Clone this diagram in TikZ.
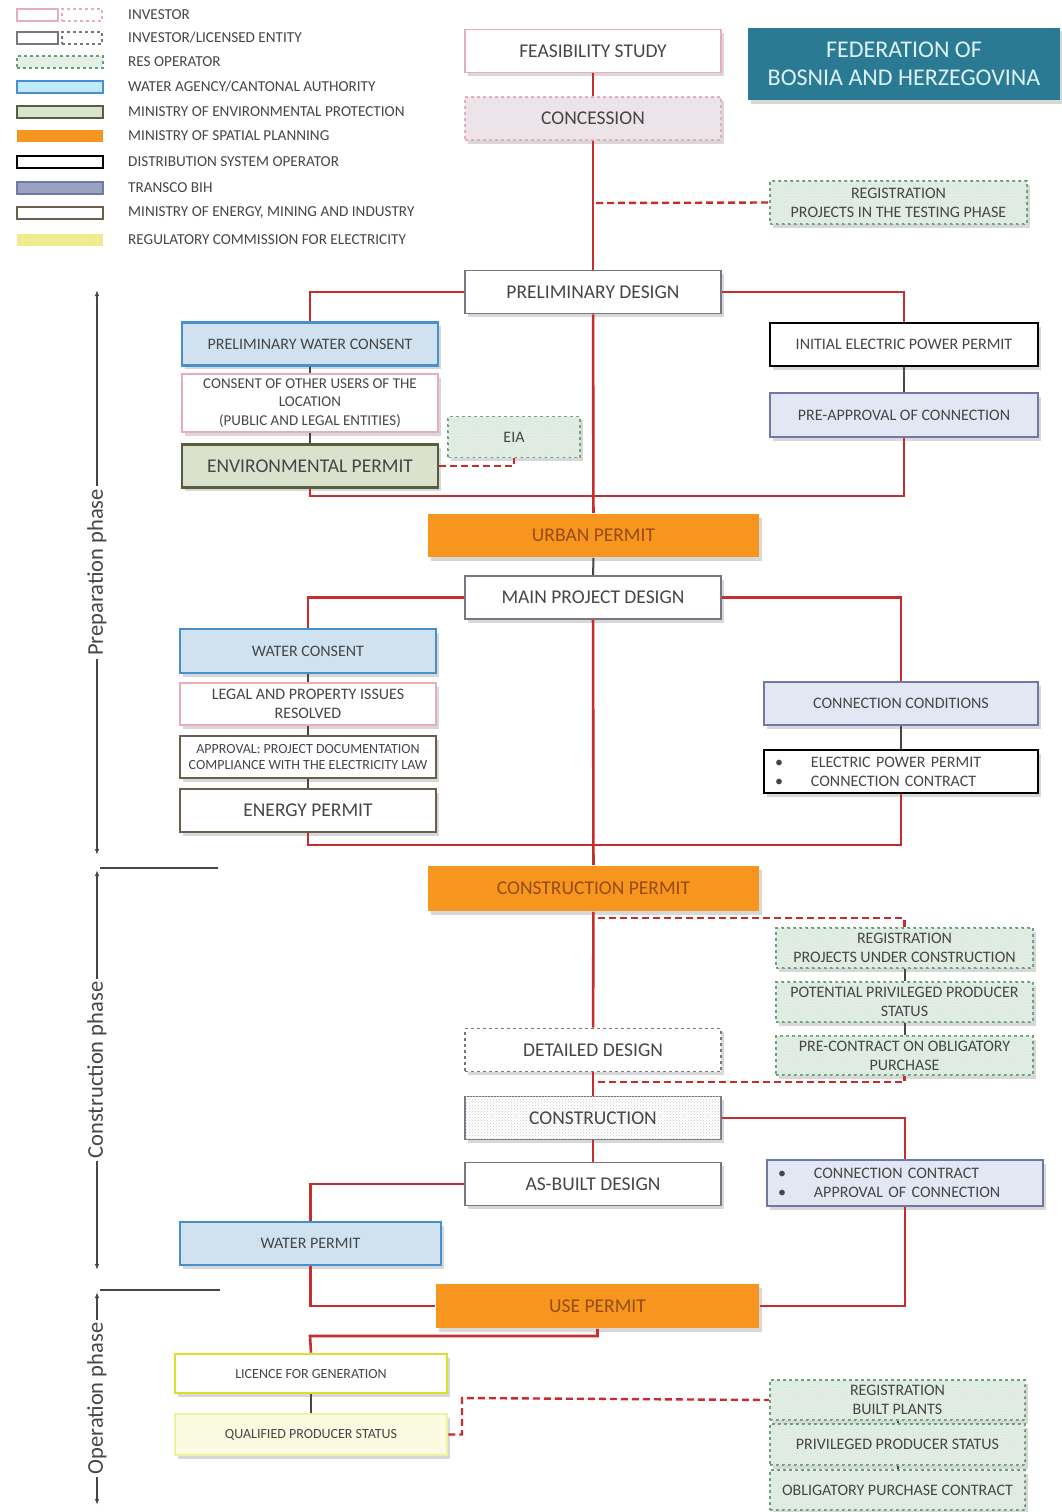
\documentclass[tikz,border=0pt]{standalone}
\usepackage{fontspec}
\setmainfont{Carlito}
\usepackage{tikz}
\usetikzlibrary{shadows,patterns,arrows.meta}

\definecolor{linered}{RGB}{200,45,45}
\definecolor{txtgray}{RGB}{70,70,70}
\definecolor{invpink}{RGB}{232,172,190}
\definecolor{concfill}{RGB}{236,228,232}
\definecolor{licgray}{RGB}{118,118,132}
\definecolor{resgreen}{RGB}{100,160,112}
\definecolor{resfill}{RGB}{226,238,230}
\definecolor{watblue}{RGB}{70,145,205}
\definecolor{watfill}{RGB}{208,226,240}
\definecolor{envolive}{RGB}{85,95,60}
\definecolor{envfill}{RGB}{218,226,206}
\definecolor{spatorange}{RGB}{247,150,30}
\definecolor{spattxt}{RGB}{150,75,20}
\definecolor{transcoblue}{RGB}{110,122,165}
\definecolor{transfill}{RGB}{226,231,243}
\definecolor{energybrown}{RGB}{105,95,75}
\definecolor{regyellow}{RGB}{222,222,50}
\definecolor{regfill}{RGB}{250,250,225}
\definecolor{fedteal}{RGB}{42,122,148}

\newcommand{\fmain}{\fontsize{19.5}{22}\selectfont}
\newcommand{\fside}{\fontsize{16}{19}\selectfont}
\newcommand{\fsmall}{\fontsize{14}{16.5}\selectfont}

\begin{document}
\begin{tikzpicture}[x=1pt,y=-1pt,
    box/.style={draw, line width=1.8pt, minimum width=256pt, minimum height=43pt, inner sep=1pt,
        align=center, text=txtgray, font=\fmain,
        drop shadow={opacity=0.3, shadow xshift=2.5pt, shadow yshift=-3.5pt}},
    investor/.style={box, draw=invpink, fill=white},
    investordash/.style={box, draw=invpink, dashed, fill=concfill},
    licensed/.style={box, draw=licgray, fill=white},
    licenseddash/.style={licensed, dashed},
    resop/.style={box, draw=resgreen, dashed, fill=resfill, font=\fside, minimum height=40pt,
        postaction={pattern=crosshatch dots, pattern color=resgreen!30}},
    water/.style={box, draw=watblue, line width=2.6pt, fill=watfill, font=\fside},
    envmin/.style={box, draw=envolive, line width=2.6pt, fill=envfill},
    spatial/.style={box, draw=none, fill=spatorange, text=spattxt, minimum width=331pt},
    dso/.style={box, draw=black, line width=2.6pt, fill=white, font=\fside},
    transco/.style={box, draw=transcoblue, line width=2.6pt, fill=transfill, font=\fside},
    energy/.style={box, draw=energybrown, line width=2.6pt, fill=white},
    regul/.style={box, draw=regyellow, line width=2.6pt, fill=white, font=\fsmall},
    redline/.style={draw=linered, line width=2.6pt},
    reddash/.style={draw=linered, line width=2.4pt, dash pattern=on 7pt off 4pt},
    link/.style={draw=txtgray, line width=2pt},
    lgsw/.style={minimum width=86pt, minimum height=12pt, inner sep=0pt, line width=2.2pt},
    lgres/.style={draw=resgreen, dashed, fill=resfill},
    lgwat/.style={draw=watblue, fill=cyan!25},
    lgenv/.style={draw=envolive, fill=envfill},
    lgspat/.style={fill=spatorange},
    lgdso/.style={draw=black, fill=white},
    lgtrans/.style={draw=transcoblue, fill=transcoblue!70},
    lgener/.style={draw=energybrown, fill=white},
    lgreg/.style={fill=regyellow!55},
    lgtxt/.style={anchor=west, inner sep=0pt, text=txtgray, font=\fontsize{15.2}{17}\selectfont},
    phaseline/.style={draw=txtgray, line width=1.2pt, arrows={Latex[length=6pt]-Latex[length=6pt]}},
    phase/.style={midway, rotate=90, fill=white, inner sep=3pt, text=txtgray, font=\fontsize{22.5}{25}\selectfont}
]

    % Fundo
    \fill[white] (0,0) rectangle (1062,1512);
    \useasboundingbox (0,0) rectangle (1062,1512);

    % Legenda
    \node[lgsw, draw=invpink, minimum width=41pt] (lgA1) at (37.5,15) {};
    \node[lgsw, draw=invpink, dashed, minimum width=40pt] (lgA2) at (82,15) {};
    \node[lgtxt] (lgA) at (128,15) {INVESTOR};
    \node[lgsw, draw=licgray, minimum width=41pt] (lgB1) at (37.5,38) {};
    \node[lgsw, draw=licgray, dashed, minimum width=40pt] (lgB2) at (82,38) {};
    \node[lgtxt] (lgB) at (128,38) {INVESTOR/LICENSED ENTITY};
    \foreach \y/\sty/\txt [count=\i] in {
        62/lgres/{RES OPERATOR},
        87/lgwat/{WATER AGENCY/CANTONAL AUTHORITY},
        112/lgenv/{MINISTRY OF ENVIRONMENTAL PROTECTION},
        136/lgspat/{MINISTRY OF SPATIAL PLANNING},
        162/lgdso/{DISTRIBUTION SYSTEM OPERATOR},
        188/lgtrans/{TRANSCO BIH},
        213/lgener/{MINISTRY OF ENERGY, MINING AND INDUSTRY},
        240/lgreg/{REGULATORY COMMISSION FOR ELECTRICITY}} {
        \node[lgsw, \sty] (lg\i) at (60,\y) {};
        \node[lgtxt] (lgt\i) at (128,\y) {\txt};
    }

    % Titulo
    \node[fill=fedteal, text={rgb,255:red,222;green,242;blue,246}, minimum width=312pt, minimum height=72pt,
        align=center, font=\fontsize{24}{28}\selectfont,
        drop shadow={opacity=0.3, shadow xshift=2.5pt, shadow yshift=-3.5pt}] (fed) at (904,64)
        {FEDERATION OF\\BOSNIA AND HERZEGOVINA};

    % Fase de preparacao
    \node[investor] (feas) at (593,51) {FEASIBILITY STUDY};
    \node[investordash] (conc) at (593,118.5) {CONCESSION};
    \node[resop, minimum width=257pt, minimum height=43pt] (reg1) at (898.5,202.5) {REGISTRATION\\PROJECTS IN THE TESTING PHASE};
    \node[licensed] (prel) at (593,292) {PRELIMINARY DESIGN};

    \node[water] (pwc) at (310,344) {PRELIMINARY WATER CONSENT};
    \node[investor, font=\fontsize{15}{18.5}\selectfont, minimum height=58pt] (cons) at (310,403) {CONSENT OF OTHER USERS OF THE\\LOCATION\\(PUBLIC AND LEGAL ENTITIES)};
    \node[envmin] (env) at (310,466) {ENVIRONMENTAL PERMIT};
    \node[resop, minimum width=132pt, minimum height=41pt] (eia) at (514,437) {EIA};

    \node[dso, minimum width=268pt] (iepp) at (904,344.5) {INITIAL ELECTRIC POWER PERMIT};
    \node[transco, minimum width=268pt, minimum height=44pt] (ppc) at (904,415) {PRE-APPROVAL OF CONNECTION};

    \node[spatial] (urban) at (593.5,535.5) {URBAN PERMIT};
    \node[licensed] (mpd) at (593,597.5) {MAIN PROJECT DESIGN};

    \node[water, minimum height=44pt] (wc) at (308,651) {WATER CONSENT};
    \node[investor, font=\fside, minimum height=42pt] (lpi) at (308,704) {LEGAL AND PROPERTY ISSUES\\RESOLVED};
    \node[energy, font=\fsmall, minimum height=42pt] (appr) at (308,757) {APPROVAL: PROJECT DOCUMENTATION\\COMPLIANCE WITH THE ELECTRICITY LAW};
    \node[energy] (ep) at (308,810.5) {ENERGY PERMIT};

    \node[transco, minimum width=274pt] (cc) at (901,703.5) {CONNECTION CONDITIONS};
    \node[dso, minimum width=274pt, text width=252pt, align=left] (epp) at (901,771.5)
        {\textbullet\hspace{28pt}ELECTRIC POWER PERMIT\\\textbullet\hspace{28pt}CONNECTION CONTRACT};

    % Fase de construcao
    \node[spatial, minimum height=45pt] (cperm) at (593.5,888.5) {CONSTRUCTION PERMIT};
    \node[resop, minimum width=257pt] (reg2) at (904.5,948) {REGISTRATION\\PROJECTS UNDER CONSTRUCTION};
    \node[resop, minimum width=257pt] (pps) at (904.5,1002) {POTENTIAL PRIVILEGED PRODUCER\\STATUS};
    \node[resop, minimum width=257pt, minimum height=39pt] (pca) at (904.5,1055.5) {PRE-CONTRACT ON OBLIGATORY\\PURCHASE};

    \node[licenseddash] (dd) at (593,1050) {DETAILED DESIGN};
    \node[licensed, postaction={pattern=crosshatch dots, pattern color=gray!40}] (constr) at (593,1118) {CONSTRUCTION};
    \node[licensed] (asb) at (593,1184) {AS-BUILT DESIGN};
    \node[transco, minimum width=276pt, minimum height=46pt, text width=254pt, align=left] (ccon) at (905,1183)
        {\textbullet\hspace{28pt}CONNECTION CONTRACT\\\textbullet\hspace{28pt}APPROVAL OF CONNECTION};
    \node[water, minimum width=261pt] (wp) at (310.5,1243.5) {WATER PERMIT};
    \node[spatial, minimum width=323pt, minimum height=44pt] (use) at (597.5,1306) {USE PERMIT};

    % Fase de operacao
    \node[regul, minimum width=272pt, minimum height=39pt] (lic) at (311,1373.5) {LICENCE FOR GENERATION};
    \node[regul, draw=regyellow!45, fill=regfill, minimum width=272pt, minimum height=41pt] (qps) at (311,1434.5) {QUALIFIED PRODUCER STATUS};
    \node[resop, minimum width=255pt] (reg3) at (897.5,1400) {REGISTRATION\\BUILT PLANTS};
    \node[resop, minimum width=255pt, minimum height=41pt] (pps2) at (897.5,1444.5) {PRIVILEGED PRODUCER STATUS};
    \node[resop, minimum width=255pt] (opc) at (897.5,1490) {OBLIGATORY PURCHASE CONTRACT};

    % Pontos de juncao
    \coordinate (t1) at (596,203);
    \coordinate (ja) at (593,496);
    \coordinate (jb) at (593,845);
    \coordinate (t2) at (598,918);
    \coordinate (t3) at (598,1082);
    \coordinate (jc) at (310,1336);
    \coordinate (t4) at (462,1398);

    % Ligacoes principais
    \draw[redline] (feas) -- (conc);
    \draw[redline] (conc) -- (prel);
    \draw[reddash] (t1) -- (reg1.west);
    \draw[redline] (prel.west) -| (pwc.north);
    \draw[redline] (prel.east) -| (iepp.north);
    \draw[redline] (prel) -- (urban);
    \draw[redline] (env.south) |- (ja) -| (ppc.south);
    \draw[reddash] (env.east) -| (eia.south);
    \draw[link] (pwc) -- (cons);
    \draw[link] (cons) -- (env);
    \draw[link] (iepp) -- (ppc);

    \draw[link] (urban) -- (mpd);
    \draw[redline] (mpd.west) -| (wc.north);
    \draw[redline] (mpd.east) -| (cc.north);
    \draw[redline] (mpd) -- (cperm);
    \draw[redline] (ep.south) |- (jb) -| (epp.south);
    \foreach \a/\b in {wc/lpi, lpi/appr, appr/ep, cc/epp} {
        \draw[link] (\a) -- (\b);
    }

    \draw[redline] (cperm) -- (dd);
    \draw[reddash] (t2) -| (reg2.north);
    \draw[reddash] (t3) -| (pca.south);
    \foreach \a/\b in {reg2/pps, pps/pca, lic/qps, reg3/pps2, pps2/opc} {
        \draw[link] (\a) -- (\b);
    }
    \draw[redline] (dd) -- (constr);
    \draw[redline] (constr) -- (asb);
    \draw[redline] (constr.east) -| (ccon.north);
    \draw[redline] (asb.west) -| (wp.north);
    \draw[redline] (wp.south) |- (use.west);
    \draw[redline] (ccon.south) |- (use.east);

    \draw[redline] (use.south) |- (jc) -- (lic.north);
    \draw[reddash] (qps.east) -| (t4) -- (reg3.west);

    % Fases
    \coordinate (pa1) at (97,290);
    \coordinate (pa2) at (97,855);
    \coordinate (pb1) at (97,870);
    \coordinate (pb2) at (97,1270);
    \coordinate (pc1) at (97,1292);
    \coordinate (pc2) at (97,1505);
    \draw[phaseline] (pa1) -- node[phase] (ph1) {Preparation phase} (pa2);
    \draw[phaseline] (pb1) -- node[phase] (ph2) {Construction phase} (pb2);
    \draw[phaseline] (pc1) -- node[phase] (ph3) {Operation phase} (pc2);
    \coordinate (sa1) at (100,868);
    \coordinate (sa2) at (218,868);
    \coordinate (sb1) at (100,1290);
    \coordinate (sb2) at (220,1290);
    \draw[draw=txtgray, line width=1.2pt] (sa1) -- (sa2);
    \draw[draw=txtgray, line width=1.2pt] (sb1) -- (sb2);
\end{tikzpicture}
\end{document}
